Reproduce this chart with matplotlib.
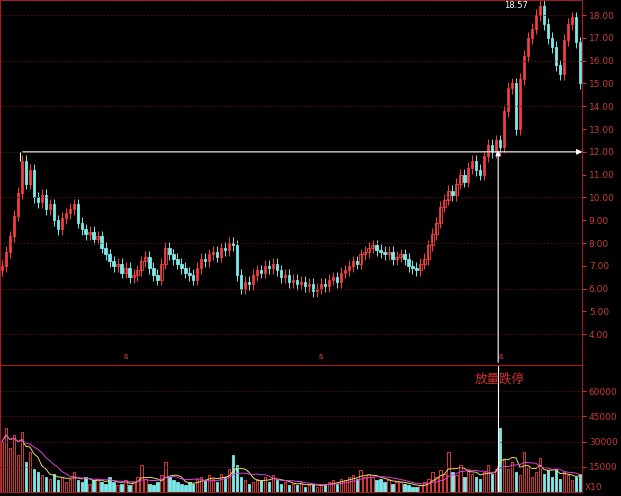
import numpy as np
import matplotlib
matplotlib.use("Agg")
import matplotlib.pyplot as plt
import pandas as pd

closes = [7.0,7.6,8.3,9.2,10.2,11.6,10.6,11.2,10.0,9.8,10.1,9.5,9.7,9.0,8.6,9.1,9.3,9.5,9.7,8.9,
          8.6,8.4,8.5,8.2,8.3,7.8,7.5,7.2,7.0,7.1,6.7,6.9,6.5,6.6,6.8,7.2,7.4,6.9,6.6,6.4,
          7.1,7.8,7.5,7.3,7.1,6.9,6.7,6.6,6.4,6.9,7.3,7.2,7.5,7.6,7.4,7.8,7.7,8.0,7.9,6.6,
          6.0,6.3,6.2,6.6,6.8,6.7,7.0,6.9,7.1,6.8,6.5,6.6,6.3,6.4,6.2,6.3,6.1,6.2,5.9,6.0,
          6.2,6.1,6.4,6.5,6.3,6.7,6.8,7.0,7.2,7.1,7.5,7.6,7.8,7.9,7.7,7.6,7.5,7.6,7.3,7.4,
          7.5,7.3,7.0,6.9,6.8,7.1,7.3,7.9,8.4,8.9,9.6,9.9,10.3,10.1,10.6,11.0,10.7,11.3,11.6,11.2,
          11.0,11.8,12.3,12.0,12.5,12.2,13.8,14.8,15.0,13.0,15.2,16.2,17.0,17.4,18.0,18.4,17.6,17.0,16.6,15.8,
          15.4,16.9,17.6,17.9,16.8,15.0]
volumes = [30000,38000,26000,34000,22000,36000,18000,24000,14000,12000,10000,9000,8000,11000,7000,9000,6000,8000,12000,7000,
           6000,9000,5000,7000,8000,6000,5000,9000,6000,4000,5000,7000,4000,6000,9000,16000,8000,5000,4000,6000,
           10000,18000,9000,7000,6000,5000,4000,6000,5000,8000,9000,7000,10000,8000,6000,11000,9000,14000,22000,16000,
           9000,7000,5000,6000,8000,7000,9000,6000,10000,7000,5000,6000,4000,5000,4000,6000,3000,4000,5000,3000,
           5000,4000,6000,7000,5000,8000,7000,9000,10000,8000,13000,9000,11000,9000,7000,8000,6000,7000,5000,6000,
           6000,5000,4000,3000,3000,4000,6000,8000,12000,9000,13000,11000,24000,12000,10000,16000,9000,14000,11000,9000,
           8000,12000,16000,11000,14000,38000,19000,14000,18000,12000,10000,24000,15000,9000,12000,20000,11000,13000,9000,14000,
           8000,12000,10000,7000,9000,11000]
price_ticks = [4,5,6,7,8,9,10,11,12,13,14,15,16,17,18]
vol_ticks = [15000,30000,45000,60000]

UP = "#ff4040"
DN = "#7de8e8"
TXT = "#c83c3c"
GRID = "#5a1010"

n = len(closes)
opens = [closes[0] - 0.2] + closes[:-1]
x = np.arange(n)

fig = plt.figure(figsize=(6.21, 4.96), dpi=100, facecolor="black")
axp = fig.add_axes([0, 0.264, 0.937, 0.736], facecolor="black")
axv = fig.add_axes([0, 0.008, 0.937, 0.256], facecolor="black", sharex=axp)

for ax in (axp, axv):
    for s in ax.spines.values():
        s.set_color("#a02020")
    ax.yaxis.tick_right()
    ax.tick_params(axis="y", colors=TXT, labelsize=6.5, length=3, pad=2)
    ax.tick_params(axis="x", bottom=False, labelbottom=False)

for i in range(n):
    o, c = opens[i], closes[i]
    col = UP if c >= o else DN
    hi = max(o, c) + 0.25
    lo = min(o, c) - 0.25
    axp.vlines(x[i], lo, hi, color=col, lw=0.7)
    axp.bar(x[i], max(abs(c - o), 0.03), bottom=min(o, c), width=0.6,
            color="black" if c >= o else col, edgecolor=col, lw=0.6)
    axv.bar(x[i], volumes[i], width=0.6, color="black" if c >= o else col, edgecolor=col, lw=0.6)

vs = pd.Series(volumes)
axv.plot(x, vs.rolling(5, min_periods=1).mean(), color="#e8e060", lw=0.7)
axv.plot(x, vs.rolling(10, min_periods=1).mean(), color="#e040e0", lw=0.7)

axp.set_xlim(-0.5, n - 0.5)
axp.set_ylim(2.65, 18.66)
axp.set_yticks(price_ticks)
axp.set_yticklabels([f"{t:.2f}" for t in price_ticks])
for t in range(4, 19, 2):
    axp.axhline(t, color=GRID, lw=0.6, ls=(0, (2, 2)))
axv.set_ylim(0, 75600)
axv.set_yticks(vol_ticks)
axv.set_yticklabels([str(t) for t in vol_ticks])
for t in vol_ticks:
    axv.axhline(t, color=GRID, lw=0.6, ls=(0, (2, 2)))

# annotations
xi = 124.5
axp.annotate("", xy=(n + 0.3, 12.0), xytext=(4.5, 12.0),
             arrowprops=dict(arrowstyle="-|>", color="white", lw=0.8, mutation_scale=8), annotation_clip=False)
axp.annotate("", xy=(xi, 12.2), xytext=(xi, 2.65),
             arrowprops=dict(arrowstyle="-|>", color="white", lw=0.8, mutation_scale=8))
axv.axvline(xi, color="white", lw=0.8)
axp.vlines([4.5], 11.6, 12.0, color="white", lw=0.8)
for xm in [31, 80, 125]:
    axp.text(xm, 2.85, "ß", color=UP, fontsize=5, ha="center", va="bottom")
axp.text(129, 18.62, "18.57", color="white", fontsize=6, ha="center", va="top")
axv.text(118.5, 67000, "放量跌停", color="#d03030", fontsize=9, ha="left", va="center",
         family=["Noto Sans CJK SC", "DejaVu Sans"])
axv.text(1.005, 0.0, "X10", transform=axv.transAxes, color=TXT, fontsize=6.5, ha="left", va="bottom")

fig.savefig("out.png", dpi=100, facecolor="black")
